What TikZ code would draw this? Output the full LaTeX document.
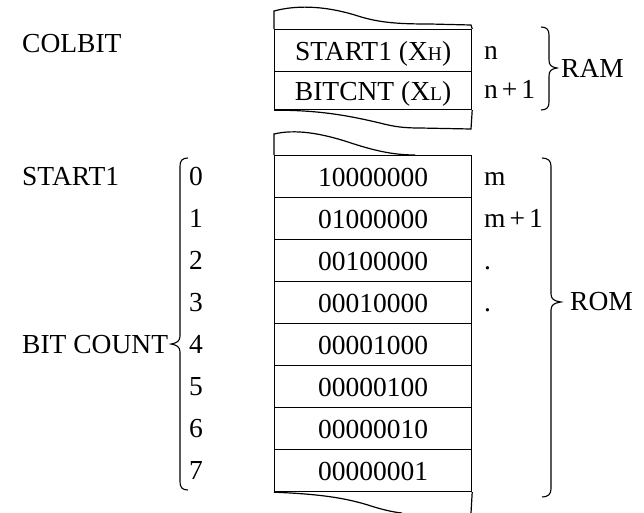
\documentclass[tikz,border=0pt]{standalone}
\usepackage{fontspec}
\setmainfont{Liberation Serif}
\usetikzlibrary{positioning}
\newcommand{\lowcap}[1]{{\fontsize{19.5}{19.5}\selectfont #1}}
\tikzset{txt/.style={font=\fontsize{27.5}{30}\selectfont,inner sep=0pt},
  cell/.style={txt,draw,line width=1.2pt,minimum width=197pt,minimum height=42pt,
    text height=19pt,text depth=0pt,anchor=north west},
  tag/.style={txt,anchor=base west},
  edge/.style={line width=1.2pt},
  brace/.style={line width=1.1pt}}

\begin{document}
\begin{tikzpicture}[x=1pt,y=-1pt]
\useasboundingbox (0,0) rectangle (644,512);
% RAM part
\node[cell] (ram0) at (274,29) {START1 (X\lowcap{H})};
\node[cell,minimum height=38pt] (ram1) at (274,71) {BITCNT (X\lowcap{L})};
\draw[edge] (ram0.north west) -- (274,11) .. controls (300,4) and (330,7) .. (358,16)
  .. controls (380,23) and (400,24) .. (430,24) -- (471,25) -- (ram0.north east);
\draw[edge] (ram1.south west) .. controls (320,110) and (350,116) .. (380,123)
  .. controls (395,127) and (405,128) .. (420,128) -- (471,129) -- (ram1.south east);
\node[tag] (addrn0) at (484,59) {n};
\node[tag] (addrn1) at (484,98) {n\kern4pt+\kern4pt1};
\node[tag] (colbit) at (22,52) {COLBIT};
\draw[brace] (541,27) .. controls (547,27) and (549,30) .. (549,35) -- (549,60)
  .. controls (549,65) and (551,67) .. (557,68) .. controls (551,69) and (549,71) .. (549,76)
  -- (549,102) .. controls (549,107) and (547,110) .. (541,110);
\node[txt,anchor=west] (ram) at (561,68) {RAM};
% ROM part
\foreach \i/\v in {0/10000000,1/01000000,2/00100000,3/00010000,4/00001000,5/00000100,6/00000010,7/00000001}{
\node[cell] (rom\i) at (274,{155+42*\i}) {\v};
\node[txt,anchor=base] (bit\i) at (196,{185+42*\i}) {\i};
}
\foreach \i/\a in {0/m,1/m\kern4pt+\kern4pt1,2/.,3/.}{\node[tag] (addrm\i) at (484,{185+42*\i}) {\a};}
\draw[edge] (rom0.north west) -- (274,134) .. controls (295,129) and (320,133) .. (348,142)
  .. controls (372,150) and (392,155) .. (415,155);
\draw[edge] (rom7.south west) .. controls (320,494) and (345,498) .. (368,505)
  .. controls (380,509) and (392,512) .. (402,513);
\draw[edge] (rom7.south east) -- (471,513);
\node[tag] (start) at (22,185) {START1};
\node[tag] (bitcount) at (22,353) {BIT COUNT};
\draw[brace] (188,158) .. controls (182,158) and (180,161) .. (180,166) -- (180,336)
  .. controls (180,341) and (177,343) .. (171,344) .. controls (177,345) and (180,347) .. (180,352)
  -- (180,482) .. controls (180,487) and (182,490) .. (188,490);
\draw[brace] (542,158) .. controls (548,158) and (551,161) .. (551,166) -- (551,294)
  .. controls (551,299) and (554,301) .. (561,302) .. controls (554,303) and (551,305) .. (551,310)
  -- (551,489) .. controls (551,494) and (548,497) .. (542,497);
\node[txt,anchor=west] (rom) at (570,302) {ROM};
\end{tikzpicture}
\end{document}
